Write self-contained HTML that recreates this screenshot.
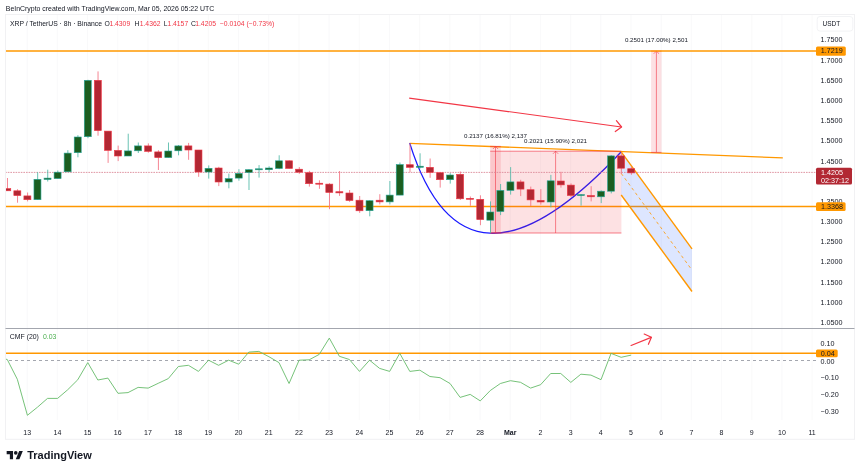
<!DOCTYPE html>
<html><head><meta charset="utf-8"><style>
html,body{margin:0;padding:0;background:#fff;}
body{width:860px;height:472px;overflow:hidden;position:relative;}
svg{position:absolute;left:0;top:0;font-family:"Liberation Sans",sans-serif;will-change:transform;}
</style></head><body>
<svg width="860" height="472" viewBox="0 0 860 472">
<rect width="860" height="472" fill="#fff"/>
<line x1="27.20" y1="14.5" x2="27.20" y2="420" stroke="#f6f6f8" stroke-width="0.7"/>
<line x1="57.39" y1="14.5" x2="57.39" y2="420" stroke="#f6f6f8" stroke-width="0.7"/>
<line x1="87.58" y1="14.5" x2="87.58" y2="420" stroke="#f6f6f8" stroke-width="0.7"/>
<line x1="117.77" y1="14.5" x2="117.77" y2="420" stroke="#f6f6f8" stroke-width="0.7"/>
<line x1="147.96" y1="14.5" x2="147.96" y2="420" stroke="#f6f6f8" stroke-width="0.7"/>
<line x1="178.15" y1="14.5" x2="178.15" y2="420" stroke="#f6f6f8" stroke-width="0.7"/>
<line x1="208.34" y1="14.5" x2="208.34" y2="420" stroke="#f6f6f8" stroke-width="0.7"/>
<line x1="238.53" y1="14.5" x2="238.53" y2="420" stroke="#f6f6f8" stroke-width="0.7"/>
<line x1="268.72" y1="14.5" x2="268.72" y2="420" stroke="#f6f6f8" stroke-width="0.7"/>
<line x1="298.91" y1="14.5" x2="298.91" y2="420" stroke="#f6f6f8" stroke-width="0.7"/>
<line x1="329.10" y1="14.5" x2="329.10" y2="420" stroke="#f6f6f8" stroke-width="0.7"/>
<line x1="359.29" y1="14.5" x2="359.29" y2="420" stroke="#f6f6f8" stroke-width="0.7"/>
<line x1="389.48" y1="14.5" x2="389.48" y2="420" stroke="#f6f6f8" stroke-width="0.7"/>
<line x1="419.67" y1="14.5" x2="419.67" y2="420" stroke="#f6f6f8" stroke-width="0.7"/>
<line x1="449.86" y1="14.5" x2="449.86" y2="420" stroke="#f6f6f8" stroke-width="0.7"/>
<line x1="480.05" y1="14.5" x2="480.05" y2="420" stroke="#f6f6f8" stroke-width="0.7"/>
<line x1="510.24" y1="14.5" x2="510.24" y2="420" stroke="#f6f6f8" stroke-width="0.7"/>
<line x1="540.43" y1="14.5" x2="540.43" y2="420" stroke="#f6f6f8" stroke-width="0.7"/>
<line x1="570.62" y1="14.5" x2="570.62" y2="420" stroke="#f6f6f8" stroke-width="0.7"/>
<line x1="600.81" y1="14.5" x2="600.81" y2="420" stroke="#f6f6f8" stroke-width="0.7"/>
<line x1="631.00" y1="14.5" x2="631.00" y2="420" stroke="#f6f6f8" stroke-width="0.7"/>
<line x1="661.19" y1="14.5" x2="661.19" y2="420" stroke="#f6f6f8" stroke-width="0.7"/>
<line x1="691.38" y1="14.5" x2="691.38" y2="420" stroke="#f6f6f8" stroke-width="0.7"/>
<line x1="721.57" y1="14.5" x2="721.57" y2="420" stroke="#f6f6f8" stroke-width="0.7"/>
<line x1="751.76" y1="14.5" x2="751.76" y2="420" stroke="#f6f6f8" stroke-width="0.7"/>
<line x1="781.95" y1="14.5" x2="781.95" y2="420" stroke="#f6f6f8" stroke-width="0.7"/>
<line x1="812.14" y1="14.5" x2="812.14" y2="420" stroke="#f6f6f8" stroke-width="0.7"/>
<defs><clipPath id="pp"><rect x="6" y="15" width="811" height="312.5"/></clipPath><clipPath id="cp"><rect x="6" y="329" width="811" height="92"/></clipPath></defs>
<g clip-path="url(#pp)">
<line x1="0" y1="206.5" x2="817.0" y2="206.5" stroke="#ff9800" stroke-width="1.5"/>
<line x1="409.5" y1="143.3" x2="782.8" y2="157.9" stroke="#ff9800" stroke-width="1.3"/>
<path d="M409.7,143.1 Q464.96,318.87 621,152" fill="none" stroke="#1a1aff" stroke-width="1.3"/>
<line x1="409.2" y1="98.1" x2="621.4" y2="127.0" stroke="#f23645" stroke-width="1.1"/>
<polyline points="616.4,120.6 621.6,127.0 615.3,131.6" fill="none" stroke="#f23645" stroke-width="1.2" stroke-linecap="round" stroke-linejoin="round"/>
<rect x="490.2" y="146.4" width="10.600000000000023" height="86.6" fill="#f23645" fill-opacity="0.15"/>
<line x1="490.2" y1="146.4" x2="500.8" y2="146.4" stroke="#f23645" stroke-opacity="0.8" stroke-width="0.8"/>
<line x1="490.2" y1="233.0" x2="500.8" y2="233.0" stroke="#f23645" stroke-opacity="0.8" stroke-width="0.8"/>
<line x1="495.5" y1="233.0" x2="495.5" y2="146.4" stroke="#f23645" stroke-opacity="0.75" stroke-width="0.8"/>
<polyline points="492.9,149.0 495.5,146.4 498.1,149.0" fill="none" stroke="#f23645" stroke-opacity="0.75" stroke-width="0.8"/>
<rect x="490.2" y="151.2" width="131.2" height="81.80000000000001" fill="#f23645" fill-opacity="0.15"/>
<line x1="490.2" y1="151.2" x2="621.4" y2="151.2" stroke="#f23645" stroke-opacity="0.8" stroke-width="0.8"/>
<line x1="490.2" y1="233.0" x2="621.4" y2="233.0" stroke="#f23645" stroke-opacity="0.8" stroke-width="0.8"/>
<line x1="555.6" y1="233.0" x2="555.6" y2="151.2" stroke="#f23645" stroke-opacity="0.75" stroke-width="0.8"/>
<polyline points="553.0,153.79999999999998 555.6,151.2 558.2,153.79999999999998" fill="none" stroke="#f23645" stroke-opacity="0.75" stroke-width="0.8"/>
<rect x="651.1" y="51.1" width="10.399999999999977" height="101.30000000000001" fill="#f23645" fill-opacity="0.15"/>
<line x1="651.1" y1="51.1" x2="661.5" y2="51.1" stroke="#f23645" stroke-opacity="0.8" stroke-width="0.8"/>
<line x1="651.1" y1="152.4" x2="661.5" y2="152.4" stroke="#f23645" stroke-opacity="0.8" stroke-width="0.8"/>
<line x1="656.4" y1="152.4" x2="656.4" y2="51.1" stroke="#f23645" stroke-opacity="0.75" stroke-width="0.8"/>
<polyline points="653.8,53.7 656.4,51.1 659.0,53.7" fill="none" stroke="#f23645" stroke-opacity="0.75" stroke-width="0.8"/>
<line x1="0" y1="51.0" x2="817.0" y2="51.0" stroke="#ff9800" stroke-width="1.5"/>
<polygon points="621.2,151.8 692,248.8 692,291.5 621.2,195" fill="#2962ff" fill-opacity="0.16"/>
<line x1="621.2" y1="151.8" x2="692" y2="248.8" stroke="#ff9800" stroke-width="1.4"/>
<line x1="621.2" y1="195" x2="692" y2="291.5" stroke="#ff9800" stroke-width="1.4"/>
<line x1="621.2" y1="173.4" x2="692" y2="270.1" stroke="#ff9800" stroke-width="0.8" stroke-dasharray="3,3"/>
<line x1="0" y1="172.4" x2="817.0" y2="172.4" stroke="#db8a98" stroke-width="0.9" stroke-dasharray="1.6,1"/>
<line x1="7.47" y1="178" x2="7.47" y2="190.8" stroke="#f3707f" stroke-width="0.85"/>
<rect x="3.77" y="188.6" width="7" height="2.20" fill="#b22833" stroke="#f23645" stroke-width="0.6"/>
<line x1="17.54" y1="189.2" x2="17.54" y2="202.7" stroke="#f3707f" stroke-width="0.85"/>
<rect x="13.84" y="190.8" width="7" height="4.80" fill="#b22833" stroke="#f23645" stroke-width="0.6"/>
<line x1="27.60" y1="192.5" x2="27.60" y2="201.4" stroke="#f3707f" stroke-width="0.85"/>
<rect x="23.90" y="195.9" width="7" height="3.80" fill="#b22833" stroke="#f23645" stroke-width="0.6"/>
<line x1="37.66" y1="172.2" x2="37.66" y2="199.7" stroke="#4fb8a6" stroke-width="0.85"/>
<rect x="33.96" y="179.3" width="7" height="20.40" fill="#1b5e20" stroke="#26a69a" stroke-width="0.6"/>
<line x1="47.73" y1="169.7" x2="47.73" y2="181.5" stroke="#4fb8a6" stroke-width="0.85"/>
<rect x="44.03" y="178.1" width="7" height="1.40" fill="#1b5e20" stroke="#26a69a" stroke-width="0.6"/>
<line x1="57.79" y1="170.5" x2="57.79" y2="178.6" stroke="#4fb8a6" stroke-width="0.85"/>
<rect x="54.09" y="172.2" width="7" height="6.40" fill="#1b5e20" stroke="#26a69a" stroke-width="0.6"/>
<line x1="67.85" y1="150.2" x2="67.85" y2="171.9" stroke="#4fb8a6" stroke-width="0.85"/>
<rect x="64.15" y="153.1" width="7" height="18.70" fill="#1b5e20" stroke="#26a69a" stroke-width="0.6"/>
<line x1="77.92" y1="135.2" x2="77.92" y2="157.3" stroke="#4fb8a6" stroke-width="0.85"/>
<rect x="74.22" y="137" width="7" height="15.70" fill="#1b5e20" stroke="#26a69a" stroke-width="0.6"/>
<line x1="87.98" y1="79.8" x2="87.98" y2="138.2" stroke="#4fb8a6" stroke-width="0.85"/>
<rect x="84.28" y="80.3" width="7" height="56.40" fill="#1b5e20" stroke="#26a69a" stroke-width="0.6"/>
<line x1="98.04" y1="71.4" x2="98.04" y2="135.7" stroke="#f3707f" stroke-width="0.85"/>
<rect x="94.34" y="80.3" width="7" height="50.30" fill="#b22833" stroke="#f23645" stroke-width="0.6"/>
<line x1="108.11" y1="131.1" x2="108.11" y2="162.9" stroke="#f3707f" stroke-width="0.85"/>
<rect x="104.41" y="131.1" width="7" height="19.30" fill="#b22833" stroke="#f23645" stroke-width="0.6"/>
<line x1="118.17" y1="145.6" x2="118.17" y2="161.1" stroke="#f3707f" stroke-width="0.85"/>
<rect x="114.47" y="150.4" width="7" height="5.60" fill="#b22833" stroke="#f23645" stroke-width="0.6"/>
<line x1="128.23" y1="133.7" x2="128.23" y2="156" stroke="#4fb8a6" stroke-width="0.85"/>
<rect x="124.53" y="150.9" width="7" height="5.10" fill="#1b5e20" stroke="#26a69a" stroke-width="0.6"/>
<line x1="138.30" y1="142.5" x2="138.30" y2="153" stroke="#4fb8a6" stroke-width="0.85"/>
<rect x="134.60" y="145.9" width="7" height="4.90" fill="#1b5e20" stroke="#26a69a" stroke-width="0.6"/>
<line x1="148.36" y1="143.4" x2="148.36" y2="152.7" stroke="#f3707f" stroke-width="0.85"/>
<rect x="144.66" y="145.9" width="7" height="5.50" fill="#b22833" stroke="#f23645" stroke-width="0.6"/>
<line x1="158.42" y1="150.2" x2="158.42" y2="170" stroke="#f3707f" stroke-width="0.85"/>
<rect x="154.72" y="151.9" width="7" height="5.70" fill="#b22833" stroke="#f23645" stroke-width="0.6"/>
<line x1="168.49" y1="142.5" x2="168.49" y2="157.6" stroke="#4fb8a6" stroke-width="0.85"/>
<rect x="164.79" y="151" width="7" height="6.60" fill="#1b5e20" stroke="#26a69a" stroke-width="0.6"/>
<line x1="178.55" y1="145" x2="178.55" y2="155.3" stroke="#4fb8a6" stroke-width="0.85"/>
<rect x="174.85" y="145.9" width="7" height="4.90" fill="#1b5e20" stroke="#26a69a" stroke-width="0.6"/>
<line x1="188.61" y1="142.9" x2="188.61" y2="159.8" stroke="#f3707f" stroke-width="0.85"/>
<rect x="184.91" y="145.9" width="7" height="4.10" fill="#b22833" stroke="#f23645" stroke-width="0.6"/>
<line x1="198.68" y1="150" x2="198.68" y2="176.8" stroke="#f3707f" stroke-width="0.85"/>
<rect x="194.98" y="150" width="7" height="22.00" fill="#b22833" stroke="#f23645" stroke-width="0.6"/>
<line x1="208.74" y1="165.4" x2="208.74" y2="178.6" stroke="#4fb8a6" stroke-width="0.85"/>
<rect x="205.04" y="168.3" width="7" height="3.70" fill="#1b5e20" stroke="#26a69a" stroke-width="0.6"/>
<line x1="218.80" y1="166.8" x2="218.80" y2="186.1" stroke="#f3707f" stroke-width="0.85"/>
<rect x="215.10" y="168" width="7" height="14.00" fill="#b22833" stroke="#f23645" stroke-width="0.6"/>
<line x1="228.87" y1="173.6" x2="228.87" y2="188.3" stroke="#4fb8a6" stroke-width="0.85"/>
<rect x="225.17" y="178.6" width="7" height="3.40" fill="#1b5e20" stroke="#26a69a" stroke-width="0.6"/>
<line x1="238.93" y1="169.2" x2="238.93" y2="180.7" stroke="#4fb8a6" stroke-width="0.85"/>
<rect x="235.23" y="173.4" width="7" height="4.70" fill="#1b5e20" stroke="#26a69a" stroke-width="0.6"/>
<line x1="248.99" y1="169.2" x2="248.99" y2="190" stroke="#4fb8a6" stroke-width="0.85"/>
<rect x="245.29" y="169.7" width="7" height="2.80" fill="#1b5e20" stroke="#26a69a" stroke-width="0.6"/>
<line x1="259.06" y1="165.1" x2="259.06" y2="177.6" stroke="#4fb8a6" stroke-width="0.85"/>
<rect x="255.36" y="168.8" width="7" height="1.00" fill="#1b5e20" stroke="#26a69a" stroke-width="0.6"/>
<line x1="269.12" y1="166.3" x2="269.12" y2="172.2" stroke="#4fb8a6" stroke-width="0.85"/>
<rect x="265.42" y="168" width="7" height="1.70" fill="#1b5e20" stroke="#26a69a" stroke-width="0.6"/>
<line x1="279.18" y1="155.3" x2="279.18" y2="169.2" stroke="#4fb8a6" stroke-width="0.85"/>
<rect x="275.48" y="160.8" width="7" height="7.70" fill="#1b5e20" stroke="#26a69a" stroke-width="0.6"/>
<line x1="289.25" y1="160.3" x2="289.25" y2="168.5" stroke="#f3707f" stroke-width="0.85"/>
<rect x="285.55" y="160.8" width="7" height="7.70" fill="#b22833" stroke="#f23645" stroke-width="0.6"/>
<line x1="299.31" y1="167.1" x2="299.31" y2="173.9" stroke="#f3707f" stroke-width="0.85"/>
<rect x="295.61" y="169.2" width="7" height="3.00" fill="#b22833" stroke="#f23645" stroke-width="0.6"/>
<line x1="309.37" y1="170.8" x2="309.37" y2="186.6" stroke="#f3707f" stroke-width="0.85"/>
<rect x="305.67" y="172.7" width="7" height="11.00" fill="#b22833" stroke="#f23645" stroke-width="0.6"/>
<line x1="319.44" y1="180.3" x2="319.44" y2="188.8" stroke="#f3707f" stroke-width="0.85"/>
<rect x="315.74" y="183.2" width="7" height="1.00" fill="#b22833" stroke="#f23645" stroke-width="0.6"/>
<line x1="329.50" y1="183.2" x2="329.50" y2="209.2" stroke="#f3707f" stroke-width="0.85"/>
<rect x="325.80" y="184.1" width="7" height="8.40" fill="#b22833" stroke="#f23645" stroke-width="0.6"/>
<line x1="339.56" y1="171" x2="339.56" y2="195.9" stroke="#f3707f" stroke-width="0.85"/>
<rect x="335.86" y="191.7" width="7" height="1.20" fill="#b22833" stroke="#f23645" stroke-width="0.6"/>
<line x1="349.63" y1="190" x2="349.63" y2="201.9" stroke="#f3707f" stroke-width="0.85"/>
<rect x="345.93" y="193" width="7" height="7.50" fill="#b22833" stroke="#f23645" stroke-width="0.6"/>
<line x1="359.69" y1="196" x2="359.69" y2="212.9" stroke="#f3707f" stroke-width="0.85"/>
<rect x="355.99" y="200.2" width="7" height="10.60" fill="#b22833" stroke="#f23645" stroke-width="0.6"/>
<line x1="369.75" y1="200.2" x2="369.75" y2="216.3" stroke="#4fb8a6" stroke-width="0.85"/>
<rect x="366.05" y="200.7" width="7" height="10.00" fill="#1b5e20" stroke="#26a69a" stroke-width="0.6"/>
<line x1="379.82" y1="194.2" x2="379.82" y2="204.4" stroke="#f3707f" stroke-width="0.85"/>
<rect x="376.12" y="200.2" width="7" height="1.70" fill="#b22833" stroke="#f23645" stroke-width="0.6"/>
<line x1="389.88" y1="181" x2="389.88" y2="204.4" stroke="#4fb8a6" stroke-width="0.85"/>
<rect x="386.18" y="195.1" width="7" height="6.80" fill="#1b5e20" stroke="#26a69a" stroke-width="0.6"/>
<line x1="399.94" y1="162.5" x2="399.94" y2="195.1" stroke="#4fb8a6" stroke-width="0.85"/>
<rect x="396.24" y="164.6" width="7" height="30.50" fill="#1b5e20" stroke="#26a69a" stroke-width="0.6"/>
<line x1="410.01" y1="143.4" x2="410.01" y2="172.2" stroke="#f3707f" stroke-width="0.85"/>
<rect x="406.31" y="164.7" width="7" height="2.70" fill="#b22833" stroke="#f23645" stroke-width="0.6"/>
<line x1="420.07" y1="153.3" x2="420.07" y2="168.5" stroke="#4fb8a6" stroke-width="0.85"/>
<rect x="416.37" y="166.2" width="7" height="1.10" fill="#1b5e20" stroke="#26a69a" stroke-width="0.6"/>
<line x1="430.13" y1="158.5" x2="430.13" y2="177.8" stroke="#f3707f" stroke-width="0.85"/>
<rect x="426.43" y="167.3" width="7" height="5.10" fill="#b22833" stroke="#f23645" stroke-width="0.6"/>
<line x1="440.20" y1="172.7" x2="440.20" y2="187.6" stroke="#f3707f" stroke-width="0.85"/>
<rect x="436.50" y="172.7" width="7" height="7.00" fill="#b22833" stroke="#f23645" stroke-width="0.6"/>
<line x1="450.26" y1="173.1" x2="450.26" y2="183.6" stroke="#4fb8a6" stroke-width="0.85"/>
<rect x="446.56" y="175" width="7" height="4.70" fill="#1b5e20" stroke="#26a69a" stroke-width="0.6"/>
<line x1="460.32" y1="171.5" x2="460.32" y2="200" stroke="#f3707f" stroke-width="0.85"/>
<rect x="456.62" y="174.3" width="7" height="24.50" fill="#b22833" stroke="#f23645" stroke-width="0.6"/>
<line x1="470.39" y1="196.5" x2="470.39" y2="205.8" stroke="#f3707f" stroke-width="0.85"/>
<rect x="466.69" y="198.3" width="7" height="1.00" fill="#b22833" stroke="#f23645" stroke-width="0.6"/>
<line x1="480.45" y1="195.3" x2="480.45" y2="225.2" stroke="#f3707f" stroke-width="0.85"/>
<rect x="476.75" y="199.3" width="7" height="20.30" fill="#b22833" stroke="#f23645" stroke-width="0.6"/>
<line x1="490.51" y1="201.4" x2="490.51" y2="233.1" stroke="#4fb8a6" stroke-width="0.85"/>
<rect x="486.81" y="212" width="7" height="8.20" fill="#1b5e20" stroke="#26a69a" stroke-width="0.6"/>
<line x1="500.58" y1="184" x2="500.58" y2="215.1" stroke="#4fb8a6" stroke-width="0.85"/>
<rect x="496.88" y="190.4" width="7" height="21.10" fill="#1b5e20" stroke="#26a69a" stroke-width="0.6"/>
<line x1="510.64" y1="167.1" x2="510.64" y2="194.6" stroke="#4fb8a6" stroke-width="0.85"/>
<rect x="506.94" y="181.9" width="7" height="8.50" fill="#1b5e20" stroke="#26a69a" stroke-width="0.6"/>
<line x1="520.70" y1="179.8" x2="520.70" y2="196.1" stroke="#f3707f" stroke-width="0.85"/>
<rect x="517.00" y="181.9" width="7" height="7.20" fill="#b22833" stroke="#f23645" stroke-width="0.6"/>
<line x1="530.77" y1="186.6" x2="530.77" y2="206" stroke="#f3707f" stroke-width="0.85"/>
<rect x="527.07" y="189.7" width="7" height="10.20" fill="#b22833" stroke="#f23645" stroke-width="0.6"/>
<line x1="540.83" y1="189.1" x2="540.83" y2="204.6" stroke="#f3707f" stroke-width="0.85"/>
<rect x="537.13" y="200.3" width="7" height="1.70" fill="#b22833" stroke="#f23645" stroke-width="0.6"/>
<line x1="550.89" y1="174.9" x2="550.89" y2="207.3" stroke="#4fb8a6" stroke-width="0.85"/>
<rect x="547.19" y="180.8" width="7" height="21.20" fill="#1b5e20" stroke="#26a69a" stroke-width="0.6"/>
<line x1="560.96" y1="171.8" x2="560.96" y2="187.6" stroke="#f3707f" stroke-width="0.85"/>
<rect x="557.26" y="181" width="7" height="3.90" fill="#b22833" stroke="#f23645" stroke-width="0.6"/>
<line x1="571.02" y1="183.4" x2="571.02" y2="197.2" stroke="#f3707f" stroke-width="0.85"/>
<rect x="567.32" y="185.1" width="7" height="10.40" fill="#b22833" stroke="#f23645" stroke-width="0.6"/>
<line x1="581.08" y1="194" x2="581.08" y2="205.6" stroke="#4fb8a6" stroke-width="0.85"/>
<rect x="577.38" y="194.6" width="7" height="1.00" fill="#1b5e20" stroke="#26a69a" stroke-width="0.6"/>
<line x1="591.15" y1="186.2" x2="591.15" y2="201.4" stroke="#f3707f" stroke-width="0.85"/>
<rect x="587.45" y="195.5" width="7" height="1.30" fill="#b22833" stroke="#f23645" stroke-width="0.6"/>
<line x1="601.21" y1="190.4" x2="601.21" y2="203.1" stroke="#4fb8a6" stroke-width="0.85"/>
<rect x="597.51" y="191.2" width="7" height="5.60" fill="#1b5e20" stroke="#26a69a" stroke-width="0.6"/>
<line x1="611.27" y1="155.2" x2="611.27" y2="193.4" stroke="#4fb8a6" stroke-width="0.85"/>
<rect x="607.57" y="155.9" width="7" height="35.30" fill="#1b5e20" stroke="#26a69a" stroke-width="0.6"/>
<line x1="621.34" y1="152.7" x2="621.34" y2="173.9" stroke="#f3707f" stroke-width="0.85"/>
<rect x="617.64" y="155.9" width="7" height="12.30" fill="#b22833" stroke="#f23645" stroke-width="0.6"/>
<line x1="631.40" y1="166.6" x2="631.40" y2="174.8" stroke="#f3707f" stroke-width="0.85"/>
<rect x="627.70" y="168.7" width="7" height="4.20" fill="#b22833" stroke="#f23645" stroke-width="0.6"/>
</g>
<g clip-path="url(#cp)">
<line x1="0" y1="353.2" x2="817.0" y2="353.2" stroke="#ff9800" stroke-width="1.5"/>
<line x1="6" y1="360.5" x2="816.0" y2="360.5" stroke="#9a9da6" stroke-width="0.9" stroke-dasharray="3,3" stroke-dashoffset="3"/>
<polyline points="-2.79,357 7.27,359.5 17.34,379.3 27.40,415.3 37.46,407.2 47.53,398.4 57.59,398.4 67.65,389.8 77.72,379.8 87.78,362.6 97.84,380 107.91,378.1 117.97,393.3 128.03,392.6 138.10,387.4 148.16,388.1 158.22,383.3 168.29,378.6 178.35,366.5 188.41,365.3 198.48,371.4 208.54,360.2 218.60,365.3 228.67,360.2 238.73,364.2 248.79,352.1 258.86,351.4 268.92,356.7 278.98,362.6 289.05,383.5 299.11,360.2 309.17,359.8 319.24,354.4 329.30,338.1 339.36,356.3 349.43,359.5 359.49,371.4 369.55,360.2 379.62,368.4 389.68,371.4 399.74,353.3 409.81,371.4 419.87,370.2 429.93,376.5 440.00,377.7 450.06,383.5 460.12,397.4 470.19,394.4 480.25,400.9 490.31,390.5 500.38,383.5 510.44,380.7 520.50,382.3 530.57,388.1 540.63,384.7 550.69,373.5 560.76,373.5 570.82,382.4 580.88,374.2 590.95,375.1 601.01,379.7 611.07,353.4 621.14,357.3 631.20,355.1" fill="none" stroke="#66bb6a" stroke-width="0.9"/>
<line x1="631.1" y1="345.5" x2="651.2" y2="337.4" stroke="#f23645" stroke-width="1.2" stroke-linecap="round"/>
<polyline points="644.2,334.0 651.4,337.3 648.4,344.3" fill="none" stroke="#f23645" stroke-width="1.2" stroke-linecap="round" stroke-linejoin="round"/>
</g>
<rect x="5.5" y="14.5" width="849.0" height="424.8" fill="none" stroke="#f1f1f3" stroke-width="1"/>
<line x1="5.5" y1="328.5" x2="854.5" y2="328.5" stroke="#a3a6ae" stroke-width="1"/>
<rect x="817.2" y="16.5" width="35.6" height="14.6" rx="2.8" fill="#fff" stroke="#eceef1" stroke-width="0.7"/>
<g transform="translate(6.67,449.3) scale(0.455)" fill="#131722"><path d="M14 22H7V11H0V4h14v18zM28 22h-8l7.5-18h8L28 22z"/><circle cx="20" cy="8" r="4"/></g>
<text x="5.8" y="10.9" font-size="6.93" fill="#131722" font-weight="normal" text-anchor="start" >BeInCrypto created with TradingView.com, Mar 05, 2026 05:22 UTC</text>
<text x="10" y="25.8" font-size="6.8" fill="#131722" font-weight="normal" text-anchor="start" >XRP / TetherUS · 8h · Binance</text>
<text x="104.6" y="25.8" font-size="6.8" fill="#131722" font-weight="normal" text-anchor="start" >O</text>
<text x="109.4" y="25.8" font-size="6.8" fill="#f23645" font-weight="normal" text-anchor="start" >1.4309</text>
<text x="134.5" y="25.8" font-size="6.8" fill="#131722" font-weight="normal" text-anchor="start" >H</text>
<text x="139.7" y="25.8" font-size="6.8" fill="#f23645" font-weight="normal" text-anchor="start" >1.4362</text>
<text x="163.8" y="25.8" font-size="6.8" fill="#131722" font-weight="normal" text-anchor="start" >L</text>
<text x="167.4" y="25.8" font-size="6.8" fill="#f23645" font-weight="normal" text-anchor="start" >1.4157</text>
<text x="191.0" y="25.8" font-size="6.8" fill="#131722" font-weight="normal" text-anchor="start" >C</text>
<text x="195.2" y="25.8" font-size="6.8" fill="#f23645" font-weight="normal" text-anchor="start" >1.4205</text>
<text x="219.9" y="25.8" font-size="6.8" fill="#f23645" font-weight="normal" text-anchor="start" >−0.0104 (−0.73%)</text>
<text x="831.4" y="26.0" font-size="6.5" fill="#131722" font-weight="normal" text-anchor="middle" >USDT</text>
<text x="820.5" y="42.4" font-size="7.2" fill="#131722" font-weight="normal" text-anchor="start" >1.7500</text>
<text x="820.5" y="62.585000000000015" font-size="7.2" fill="#131722" font-weight="normal" text-anchor="start" >1.7000</text>
<text x="820.5" y="82.77000000000002" font-size="7.2" fill="#131722" font-weight="normal" text-anchor="start" >1.6500</text>
<text x="820.5" y="102.95499999999996" font-size="7.2" fill="#131722" font-weight="normal" text-anchor="start" >1.6000</text>
<text x="820.5" y="123.13999999999997" font-size="7.2" fill="#131722" font-weight="normal" text-anchor="start" >1.5500</text>
<text x="820.5" y="143.325" font-size="7.2" fill="#131722" font-weight="normal" text-anchor="start" >1.5000</text>
<text x="820.5" y="163.51000000000002" font-size="7.2" fill="#131722" font-weight="normal" text-anchor="start" >1.4500</text>
<text x="820.5" y="203.87999999999997" font-size="7.2" fill="#131722" font-weight="normal" text-anchor="start" >1.3500</text>
<text x="820.5" y="224.06499999999997" font-size="7.2" fill="#131722" font-weight="normal" text-anchor="start" >1.3000</text>
<text x="820.5" y="244.24999999999997" font-size="7.2" fill="#131722" font-weight="normal" text-anchor="start" >1.2500</text>
<text x="820.5" y="264.43500000000006" font-size="7.2" fill="#131722" font-weight="normal" text-anchor="start" >1.2000</text>
<text x="820.5" y="284.62000000000006" font-size="7.2" fill="#131722" font-weight="normal" text-anchor="start" >1.1500</text>
<text x="820.5" y="304.805" font-size="7.2" fill="#131722" font-weight="normal" text-anchor="start" >1.1000</text>
<text x="820.5" y="324.99" font-size="7.2" fill="#131722" font-weight="normal" text-anchor="start" >1.0500</text>
<rect x="816" y="46.4" width="29.8" height="9.4" rx="1.5" fill="#ff9800"/>
<rect x="816" y="167.8" width="36" height="16.8" rx="1.5" fill="#b22833"/>
<rect x="816" y="202.2" width="29.6" height="8.8" rx="1.5" fill="#ff9800"/>
<rect x="816" y="349.4" width="21.7" height="7.9" rx="1.5" fill="#ff9800"/>
<text x="820.8" y="53.3" font-size="7.2" fill="#131722" font-weight="normal" text-anchor="start" >1.7219</text>
<text x="821" y="175.2" font-size="7.2" fill="#fff" font-weight="normal" text-anchor="start" >1.4205</text>
<text x="821" y="183.0" font-size="7.2" fill="#fff" font-weight="normal" text-anchor="start" >02:37:12</text>
<text x="821" y="209.1" font-size="7.2" fill="#131722" font-weight="normal" text-anchor="start" >1.3368</text>
<text x="9.8" y="338.8" font-size="6.9" fill="#131722" font-weight="normal" text-anchor="start" >CMF (20)</text>
<text x="43" y="338.8" font-size="6.9" fill="#4caf50" font-weight="normal" text-anchor="start" >0.03</text>
<text x="820.6" y="345.6" font-size="7.2" fill="#131722" font-weight="normal" text-anchor="start" >0.10</text>
<text x="820.6" y="363.5" font-size="7.2" fill="#131722" font-weight="normal" text-anchor="start" >0.00</text>
<text x="820.6" y="380.0" font-size="7.2" fill="#131722" font-weight="normal" text-anchor="start" >−0.10</text>
<text x="820.6" y="397.1" font-size="7.2" fill="#131722" font-weight="normal" text-anchor="start" >−0.20</text>
<text x="820.6" y="414.40000000000003" font-size="7.2" fill="#131722" font-weight="normal" text-anchor="start" >−0.30</text>
<text x="820.8" y="355.9" font-size="7.2" fill="#131722" font-weight="normal" text-anchor="start" >0.04</text>
<text x="27.20" y="434.9" font-size="7.0" fill="#131722" font-weight="normal" text-anchor="middle" >13</text>
<text x="57.39" y="434.9" font-size="7.0" fill="#131722" font-weight="normal" text-anchor="middle" >14</text>
<text x="87.58" y="434.9" font-size="7.0" fill="#131722" font-weight="normal" text-anchor="middle" >15</text>
<text x="117.77" y="434.9" font-size="7.0" fill="#131722" font-weight="normal" text-anchor="middle" >16</text>
<text x="147.96" y="434.9" font-size="7.0" fill="#131722" font-weight="normal" text-anchor="middle" >17</text>
<text x="178.15" y="434.9" font-size="7.0" fill="#131722" font-weight="normal" text-anchor="middle" >18</text>
<text x="208.34" y="434.9" font-size="7.0" fill="#131722" font-weight="normal" text-anchor="middle" >19</text>
<text x="238.53" y="434.9" font-size="7.0" fill="#131722" font-weight="normal" text-anchor="middle" >20</text>
<text x="268.72" y="434.9" font-size="7.0" fill="#131722" font-weight="normal" text-anchor="middle" >21</text>
<text x="298.91" y="434.9" font-size="7.0" fill="#131722" font-weight="normal" text-anchor="middle" >22</text>
<text x="329.10" y="434.9" font-size="7.0" fill="#131722" font-weight="normal" text-anchor="middle" >23</text>
<text x="359.29" y="434.9" font-size="7.0" fill="#131722" font-weight="normal" text-anchor="middle" >24</text>
<text x="389.48" y="434.9" font-size="7.0" fill="#131722" font-weight="normal" text-anchor="middle" >25</text>
<text x="419.67" y="434.9" font-size="7.0" fill="#131722" font-weight="normal" text-anchor="middle" >26</text>
<text x="449.86" y="434.9" font-size="7.0" fill="#131722" font-weight="normal" text-anchor="middle" >27</text>
<text x="480.05" y="434.9" font-size="7.0" fill="#131722" font-weight="normal" text-anchor="middle" >28</text>
<text x="510.24" y="434.9" font-size="7.0" fill="#131722" font-weight="bold" text-anchor="middle" >Mar</text>
<text x="540.43" y="434.9" font-size="7.0" fill="#131722" font-weight="normal" text-anchor="middle" >2</text>
<text x="570.62" y="434.9" font-size="7.0" fill="#131722" font-weight="normal" text-anchor="middle" >3</text>
<text x="600.81" y="434.9" font-size="7.0" fill="#131722" font-weight="normal" text-anchor="middle" >4</text>
<text x="631.00" y="434.9" font-size="7.0" fill="#131722" font-weight="normal" text-anchor="middle" >5</text>
<text x="661.19" y="434.9" font-size="7.0" fill="#131722" font-weight="normal" text-anchor="middle" >6</text>
<text x="691.38" y="434.9" font-size="7.0" fill="#131722" font-weight="normal" text-anchor="middle" >7</text>
<text x="721.57" y="434.9" font-size="7.0" fill="#131722" font-weight="normal" text-anchor="middle" >8</text>
<text x="751.76" y="434.9" font-size="7.0" fill="#131722" font-weight="normal" text-anchor="middle" >9</text>
<text x="781.95" y="434.9" font-size="7.0" fill="#131722" font-weight="normal" text-anchor="middle" >10</text>
<text x="812.14" y="434.9" font-size="7.0" fill="#131722" font-weight="normal" text-anchor="middle" >11</text>
<text x="495.5" y="137.8" font-size="6.2" fill="#131722" font-weight="normal" text-anchor="middle" >0.2137 (16.81%) 2,137</text>
<text x="555.6" y="142.8" font-size="6.2" fill="#131722" font-weight="normal" text-anchor="middle" >0.2021 (15.90%) 2,021</text>
<text x="656.4" y="41.9" font-size="6.2" fill="#131722" font-weight="normal" text-anchor="middle" >0.2501 (17.00%) 2,501</text>
<text x="27.2" y="459.4" font-size="11" fill="#131722" font-weight="bold" text-anchor="start" >TradingView</text>
</svg>
</body></html>
